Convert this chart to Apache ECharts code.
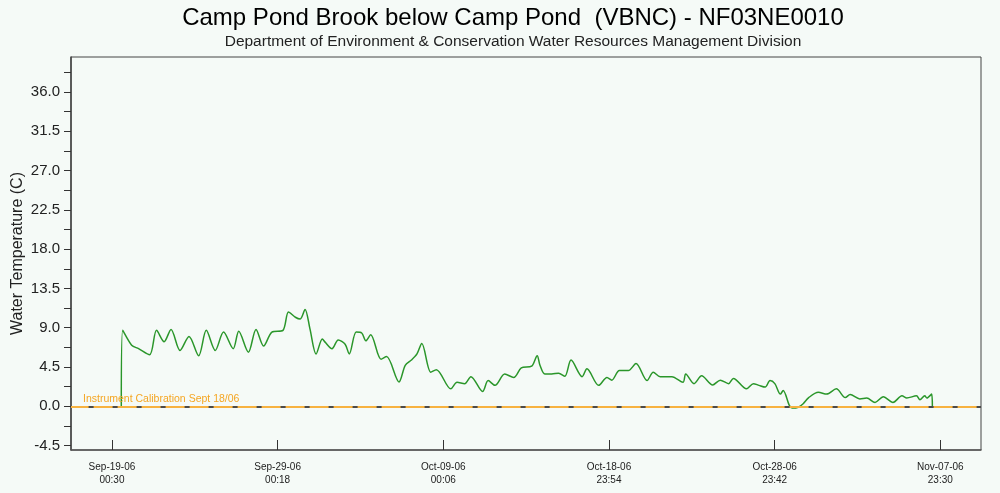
<!DOCTYPE html>
<html>
<head>
<meta charset="utf-8">
<script src="https://cdn.jsdelivr.net/npm/echarts@6/dist/echarts.min.js"></script>
<style>
  html, body { margin: 0; padding: 0; background: #f5faf7; }
  #chart { width: 1000px; height: 493px; }
</style>
</head>
<body>
<div id="chart"></div>
<script>
// Readings of water temperature (deg C)
const readingTimes = [
  '2006-09-19 14:00', '2006-09-19 16:00', '2006-09-20 05:00', '2006-09-20 15:00',
  '2006-09-21 07:00', '2006-09-21 17:00', '2006-09-22 04:00', '2006-09-22 14:00',
  '2006-09-23 03:00', '2006-09-23 16:00', '2006-09-24 06:00', '2006-09-24 17:00',
  '2006-09-25 06:00', '2006-09-25 18:00', '2006-09-26 08:00', '2006-09-26 16:00',
  '2006-09-27 06:00', '2006-09-27 17:00', '2006-09-28 04:00', '2006-09-28 16:00',
  '2006-09-29 08:00', '2006-09-29 16:00', '2006-09-30 02:00', '2006-09-30 09:00',
  '2006-09-30 16:00', '2006-09-30 23:00', '2006-10-01 08:00', '2006-10-01 17:00',
  '2006-10-01 21:00', '2006-10-02 07:00', '2006-10-02 16:00', '2006-10-03 02:00',
  '2006-10-03 08:00', '2006-10-03 18:00', '2006-10-04 02:00', '2006-10-04 08:00',
  '2006-10-04 15:00', '2006-10-05 06:00', '2006-10-05 14:00', '2006-10-06 08:00',
  '2006-10-06 17:00', '2006-10-07 02:00', '2006-10-07 10:00', '2006-10-07 17:00',
  '2006-10-08 06:00', '2006-10-08 14:00', '2006-10-09 11:00', '2006-10-09 20:00',
  '2006-10-10 07:00', '2006-10-10 16:00', '2006-10-11 09:00', '2006-10-11 17:00',
  '2006-10-12 03:00', '2006-10-12 17:00', '2006-10-13 06:00', '2006-10-13 17:00',
  '2006-10-14 08:00', '2006-10-14 16:00', '2006-10-14 20:00', '2006-10-15 03:00',
  '2006-10-15 13:00', '2006-10-15 23:00', '2006-10-16 08:00', '2006-10-16 17:00',
  '2006-10-17 09:00', '2006-10-17 16:00', '2006-10-18 09:00', '2006-10-18 21:00',
  '2006-10-19 04:00', '2006-10-19 15:00', '2006-10-20 04:00', '2006-10-20 15:00',
  '2006-10-21 07:00', '2006-10-21 16:00', '2006-10-22 02:00', '2006-10-22 19:00',
  '2006-10-23 11:00', '2006-10-23 15:00', '2006-10-24 03:00', '2006-10-24 14:00',
  '2006-10-25 06:00', '2006-10-25 17:00', '2006-10-26 05:00', '2006-10-26 12:00',
  '2006-10-27 07:00', '2006-10-27 17:00', '2006-10-28 01:00', '2006-10-28 10:00',
  '2006-10-28 17:00', '2006-10-29 00:00', '2006-10-29 08:00', '2006-10-29 12:00',
  '2006-10-29 21:00', '2006-10-30 01:00', '2006-10-30 10:00', '2006-10-30 17:00',
  '2006-10-31 01:00', '2006-10-31 15:00', '2006-11-01 03:00', '2006-11-01 17:00',
  '2006-11-02 06:00', '2006-11-02 13:00', '2006-11-03 03:00', '2006-11-03 13:00',
  '2006-11-04 01:00', '2006-11-04 13:00', '2006-11-05 03:00', '2006-11-05 16:00',
  '2006-11-05 23:00', '2006-11-06 13:00', '2006-11-06 18:00', '2006-11-07 01:00',
  '2006-11-07 04:00', '2006-11-07 11:00', '2006-11-07 12:00'
];
const waterTemps = [
  0.0, 8.7, 7.0, 6.6,
  5.9, 8.7, 7.4, 8.8,
  6.4, 8.0, 5.8, 8.7,
  6.4, 8.5, 6.6, 8.6,
  6.2, 8.8, 6.9, 8.5,
  8.7, 10.8, 10.2, 10.0,
  11.1, 8.9, 6.0, 7.7,
  7.35, 6.6, 7.6, 7.1,
  6.0, 8.5, 8.4, 7.5,
  8.2, 5.4, 5.7, 2.8,
  4.7, 5.3, 6.0, 7.2,
  3.9, 4.2, 2.0, 2.75,
  2.6, 3.4, 1.7, 2.95,
  2.4, 3.7, 3.3, 4.4,
  4.6, 5.8, 4.7, 3.7,
  3.7, 3.8, 3.45, 5.3,
  3.4, 4.3, 2.4, 3.3,
  3.0, 4.1, 4.1, 4.9,
  2.95, 3.9, 3.4, 3.4,
  2.75, 3.7, 2.6, 3.5,
  2.45, 3.0, 2.6, 3.2,
  2.0, 2.6, 2.4, 2.2,
  2.95, 2.6, 1.4, 1.8,
  0.1, -0.2, -0.1, 0.3,
  1.0, 1.6, 1.4, 2.0,
  1.0, 1.35, 0.85, 0.95,
  0.45, 1.1, 0.45, 1.2,
  0.95, 1.2, 0.75, 1.2,
  0.95, 1.4, 0.0
];

// Axis extents and tick marks
const timeMin = '2006-09-16 13:12';
const timeMax = '2006-11-10 10:24';
const timeTicks = [
  '2006-09-19 00:30', '2006-09-29 00:18', '2006-10-09 00:06',
  '2006-10-18 23:54', '2006-10-28 23:42', '2006-11-07 23:30'
];
const tempMin = -5;
const tempMax = 40;
const tempLabels = [-4.5, 0, 4.5, 9, 13.5, 18, 22.5, 27, 31.5, 36];
const tempMinorTicks = [-4.5, -2.25, 0, 2.25, 4.5, 6.75, 9, 11.25, 13.5, 15.75, 18,
  20.25, 22.5, 24.75, 27, 29.25, 31.5, 33.75, 36, 38.25];

const calibrationLevel = 0;
const calibrationNote = 'Instrument Calibration Sept 18/06';

// parse 'YYYY-MM-DD HH:mm' as a UTC timestamp
const parseT = s => {
  const m = s.match(/(\d+)-(\d+)-(\d+) (\d+):(\d+)/);
  return Date.UTC(+m[1], +m[2] - 1, +m[3], +m[4], +m[5]);
};
const MONTHS = ['Jan', 'Feb', 'Mar', 'Apr', 'May', 'Jun', 'Jul', 'Aug', 'Sep', 'Oct', 'Nov', 'Dec'];
const pad = n => String(n).padStart(2, '0');
const fmtTick = v => {
  const d = new Date(v);
  return MONTHS[d.getUTCMonth()] + '-' + pad(d.getUTCDate()) + '-' + pad(d.getUTCFullYear() % 100) +
    '\n' + pad(d.getUTCHours()) + ':' + pad(d.getUTCMinutes());
};

const seriesData = readingTimes.map((t, i) => [parseT(t), waterTemps[i]]);
const tickValues = timeTicks.map(parseT);

const chart = echarts.init(document.getElementById('chart'), null, { renderer: 'canvas' });

const fontFamily = 'Arial, "Liberation Sans", Helvetica, sans-serif';

chart.setOption({
  backgroundColor: '#f5faf7',
  animation: false,
  title: {
    text: 'Camp Pond Brook below Camp Pond  (VBNC) - NF03NE0010',
    subtext: 'Department of Environment & Conservation Water Resources Management Division',
    left: 508,
    textAlign: 'center',
    top: 1,
    itemGap: 4,
    textStyle: { fontFamily, fontSize: 24, fontWeight: 'normal', color: '#000' },
    subtextStyle: { fontFamily, fontSize: 15.5, color: '#222' }
  },
  grid: {
    left: 71, right: 19, top: 57, bottom: 43,
    outerBoundsMode: 'none',
    containLabel: false,
    show: true, borderColor: '#444', borderWidth: 1, backgroundColor: 'transparent'
  },
  xAxis: {
    type: 'value',
    min: parseT(timeMin),
    max: parseT(timeMax),
    splitLine: { show: false },
    axisLine: { show: true, onZero: false, lineStyle: { color: '#555', width: 1.5 } },
    axisTick: {
      show: true, inside: true, length: 10,
      customValues: tickValues,
      lineStyle: { color: '#333', width: 1 }
    },
    axisLabel: {
      customValues: tickValues,
      margin: 11,
      fontFamily, fontSize: 10, color: '#222', lineHeight: 13,
      formatter: fmtTick
    }
  },
  yAxis: {
    type: 'value',
    min: tempMin,
    max: tempMax,
    name: 'Water Temperature (C)',
    nameLocation: 'middle',
    nameGap: 45,
    nameMoveOverlap: false,
    nameTextStyle: { fontFamily, fontSize: 16, color: '#222' },
    splitLine: { show: false },
    axisLine: { show: true, onZero: false, lineStyle: { color: '#444', width: 1.5 } },
    axisTick: {
      show: true, length: 7,
      customValues: tempMinorTicks,
      lineStyle: { color: '#333', width: 1 }
    },
    axisLabel: {
      customValues: tempLabels,
      margin: 11,
      fontFamily, fontSize: 15, color: '#222',
      formatter: v => v.toFixed(1)
    }
  },
  series: [
    {
      // calibration reference at 0 C
      type: 'line',
      data: [],
      z: 1,
      markLine: {
        silent: true,
        symbol: 'none',
        animation: false,
        data: [
          {
            yAxis: calibrationLevel,
            lineStyle: { color: '#f7b240', width: 2, type: 'solid' },
            label: {
              show: true,
              position: 'insideStartTop',
              distance: [12, 2],
              formatter: calibrationNote,
              fontFamily, fontSize: 10.5, color: '#f5a623'
            }
          },
          {
            yAxis: calibrationLevel,
            lineStyle: { color: '#4a4a4a', width: 2, type: [5, 19], dashOffset: 6.4 },
            label: { show: false }
          }
        ]
      }
    },
    {
      name: 'Water Temperature',
      type: 'line',
      z: 3,
      data: seriesData,
      showSymbol: false,
      smooth: 0.3,
      lineStyle: { color: '#2a962a', width: 1.5 }
    }
  ]
});
</script>
</body>
</html>
